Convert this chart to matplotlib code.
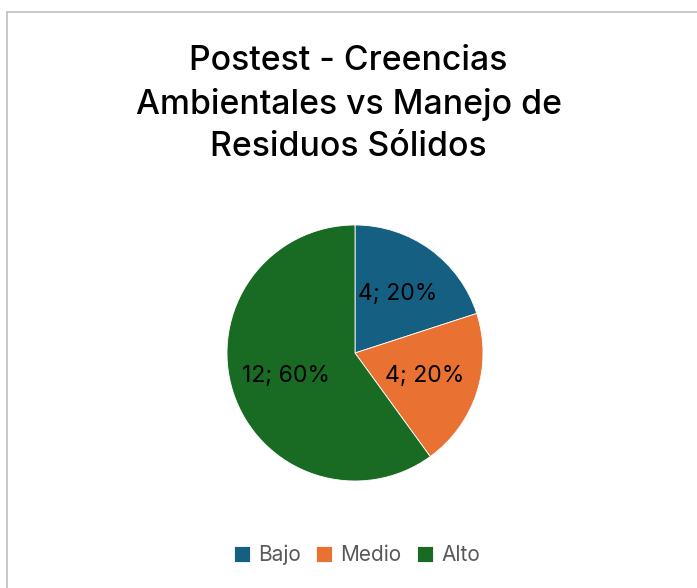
import matplotlib.pyplot as plt
from matplotlib.patches import Rectangle

categories = ["Bajo", "Medio", "Alto"]
counts = [4, 4, 12]
colors = ["#156082", "#E97132", "#196B24"]
title = "Postest - Creencias\nAmbientales vs Manejo de\nResiduos Sólidos"

plt.rcParams['font.family'] = ['Inter', 'DejaVu Sans']

W, H = 697, 588
fig = plt.figure(figsize=(W / 100, H / 100), dpi=100)

# chart border
fig.patches.append(Rectangle((7 / W, -0.05), 1.2, 1 - 12 / H + 0.05,
                             transform=fig.transFigure, fill=False,
                             edgecolor="#bfbfbf", linewidth=1.2))

# pie axes: center (355, 353), radius 128
cx, cy, r = 355, 353, 128
ax = fig.add_axes([(cx - r) / W, 1 - (cy + r) / H, 2 * r / W, 2 * r / H])
total = sum(counts)
wedges, texts, autotexts = ax.pie(
    counts, colors=colors, startangle=90, counterclock=False,
    autopct=lambda p: f"{round(p * total / 100)}; {p:.0f}%",
    pctdistance=0.57, radius=1.0,
    wedgeprops=dict(edgecolor="white", linewidth=0.6),
    textprops=dict(fontsize=16.5, color="black"))
ax.set_xlim(-1, 1)
ax.set_ylim(-1, 1)
ax.set_aspect('equal')

fig.text(0.5, 1 - 104 / H, title, ha='center', va='center', fontsize=24.3,
         color="black", linespacing=1.42, fontweight='medium')

fig.legend(wedges, categories, loc='center', bbox_to_anchor=(357 / W, 1 - 555 / H),
           ncol=3, frameon=False, handlelength=0.75, handleheight=0.75,
           handletextpad=0.4, columnspacing=0.75, fontsize=15,
           labelcolor="#595959")

fig.savefig("out.png", dpi=100)
